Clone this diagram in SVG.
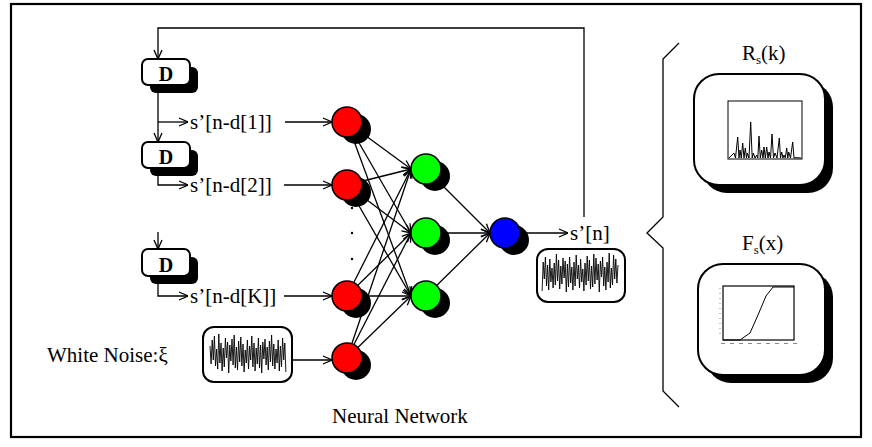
<svg xmlns="http://www.w3.org/2000/svg" xmlns:xlink="http://www.w3.org/1999/xlink" width="872" height="447" viewBox="0 0 872 447">
<style>
text{font-family:"Liberation Serif","Times New Roman",serif;fill:#000}
.lbl{font-size:21px}
.dl{font-size:20px;font-weight:bold}
.ln{fill:none;stroke:#000;stroke-width:1.3}
.arr{fill:none;stroke:#000;stroke-width:1.3;marker-end:url(#ah)}
.box{fill:#fff;stroke:#000;stroke-width:2}
.sh{fill:#000}
.cs{stroke:#000;stroke-width:1.5}
.wave{fill:none;stroke:#000;stroke-width:0.9}
</style>
<defs>
<marker id="ah" viewBox="0 0 10 10" refX="10" refY="5" markerWidth="10" markerHeight="10" markerUnits="userSpaceOnUse" orient="auto">
<path d="M1,1 L10,5 L1,9" fill="none" stroke="#000" stroke-width="1.3"/>
</marker>
<polyline id="noise" points="210,346 211.1,364 212.2,340 213.3,360 214.4,336 215.5,366 216.6,349 217.7,369 218.8,334 219.9,363 221,343 222.1,371 223.2,348 224.3,367 225.4,338 226.5,358 227.6,342 228.7,373 229.8,345 230.9,361 232,339 233.1,365 234.2,335 235.3,368 236.4,347 237.5,370 238.6,341 239.7,362 240.8,337 241.9,366 243,344 244.1,372 245.2,350 246.3,363 247.4,340 248.5,369 249.6,346 250.7,360 251.8,336 252.9,367 254,343 255.1,371 256.2,348 257.3,364 258.4,338 259.5,368 260.6,345 261.7,373 262.8,342 263.9,359 265,339 266.1,365 267.2,347 268.3,370 269.4,341 270.5,362 271.6,335 272.7,366 273.8,344 274.9,369 276,349 277.1,363 278.2,340 279.3,371 280.4,346 281.5,367 282.6,338 283.7,360 284.8,343 285.9,372" class="wave"/>
</defs>
<rect x="11" y="4" width="850" height="433" fill="#fff" stroke="#000" stroke-width="2.2"/>

<g id="connectors">
<polyline class="arr" points="584,217 584,28 158,28 158,59"/>
<line class="arr" x1="158" y1="85" x2="158" y2="142"/>
<polyline class="arr" points="158,122 188,122"/>
<polyline class="arr" points="158,168 158,185 188,185"/>
<line class="arr" x1="158" y1="232" x2="158" y2="249"/>
<polyline class="arr" points="158,277 158,296 188,296"/>
<line class="arr" x1="285" y1="122" x2="332" y2="122"/>
<line class="arr" x1="284" y1="185" x2="332" y2="185"/>
<line class="arr" x1="284" y1="296" x2="332" y2="296"/>
<line class="arr" x1="292" y1="360" x2="332" y2="360"/>
<line class="arr" x1="347" y1="122" x2="411" y2="169"/>
<line class="arr" x1="347" y1="122" x2="411" y2="233"/>
<line class="arr" x1="347" y1="122" x2="411" y2="296"/>
<line class="arr" x1="347" y1="185" x2="411" y2="169"/>
<line class="arr" x1="347" y1="185" x2="411" y2="233"/>
<line class="arr" x1="347" y1="185" x2="411" y2="296"/>
<line class="arr" x1="347" y1="296" x2="411" y2="169"/>
<line class="arr" x1="347" y1="296" x2="411" y2="233"/>
<line class="arr" x1="347" y1="296" x2="411" y2="296"/>
<line class="arr" x1="347" y1="358" x2="411" y2="169"/>
<line class="arr" x1="347" y1="358" x2="411" y2="233"/>
<line class="arr" x1="347" y1="358" x2="411" y2="296"/>
<line class="arr" x1="426" y1="169" x2="490" y2="233"/>
<line class="arr" x1="426" y1="233" x2="490" y2="233"/>
<line class="arr" x1="426" y1="296" x2="490" y2="233"/>
<line class="arr" x1="520" y1="233" x2="568" y2="233"/>
</g>

<g id="delay1"><rect class="sh" x="150" y="67" width="48" height="26" rx="6"/><rect class="box" x="142" y="59" width="48" height="26" rx="6"/><text class="dl" x="166" y="81" text-anchor="middle">D</text></g>
<g id="delay2"><rect class="sh" x="150" y="150" width="48" height="26" rx="6"/><rect class="box" x="142" y="142" width="48" height="26" rx="6"/><text class="dl" x="166" y="164" text-anchor="middle">D</text></g>
<g id="delay3"><rect class="sh" x="150" y="257" width="48" height="27" rx="6"/><rect class="box" x="142" y="249" width="48" height="27" rx="6"/><text class="dl" x="166" y="272" text-anchor="middle">D</text></g>

<g id="lbl1"><text class="lbl" x="190" y="129">s’[n-d[1]]</text></g>
<g id="lbl2"><text class="lbl" x="190" y="192">s’[n-d[2]]</text></g>
<g id="lblK"><text class="lbl" x="190" y="303">s’[n-d[K]]</text></g>

<g id="noise-in">
<text class="lbl" x="47" y="362">White Noise:ξ</text>
<rect class="box" x="203" y="327" width="89" height="55" rx="11"/>
<use xlink:href="#noise" href="#noise"/>
</g>

<g id="in1"><circle class="sh" cx="356" cy="129" r="15"/><circle class="cs" cx="347" cy="122" r="15" fill="#ff0000"/></g>
<g id="in2"><circle class="sh" cx="356" cy="192" r="15"/><circle class="cs" cx="347" cy="185" r="15" fill="#ff0000"/></g>
<g id="inK"><circle class="sh" cx="356" cy="303" r="15"/><circle class="cs" cx="347" cy="296" r="15" fill="#ff0000"/></g>
<g id="inN"><circle class="sh" cx="356" cy="365" r="15"/><circle class="cs" cx="347" cy="358" r="15" fill="#ff0000"/></g>
<g id="dots"><circle cx="352" cy="208" r="1.2"/><circle cx="352" cy="233" r="1.2"/><circle cx="352" cy="259" r="1.2"/></g>

<g id="h1"><circle class="sh" cx="435" cy="176" r="15"/><circle class="cs" cx="426" cy="169" r="15" fill="#00ff00"/></g>
<g id="h2"><circle class="sh" cx="435" cy="240" r="15"/><circle class="cs" cx="426" cy="233" r="15" fill="#00ff00"/></g>
<g id="h3"><circle class="sh" cx="435" cy="303" r="15"/><circle class="cs" cx="426" cy="296" r="15" fill="#00ff00"/></g>

<g id="out"><circle class="sh" cx="514" cy="240" r="15"/><circle class="cs" cx="505" cy="233" r="15" fill="#0000ff"/></g>

<g id="output">
<text class="lbl" x="570" y="240">s’[n]</text>
<rect class="box" x="537" y="249" width="88" height="53" rx="11"/>
<use xlink:href="#noise" href="#noise" transform="translate(828,-81) scale(-1,1)"/>
</g>

<g id="brace"><path class="ln" d="M679,43 L663,59 L663,217 L647,233 L663,248 L663,391 L679,407" stroke-width="1.5"/></g>

<g id="autocorr">
<text x="742" y="60" font-size="21">R<tspan font-size="13" dy="4">s</tspan><tspan dy="-4">(k)</tspan></text>
<rect class="sh" x="702" y="82" width="131" height="111" rx="25"/>
<rect class="box" x="694" y="74" width="131" height="111" rx="25"/>
<rect x="728" y="101" width="74" height="58" fill="#fff" stroke="#000" stroke-width="1"/>
<polyline fill="none" stroke="#000" stroke-width="1" points="729,158 734,153 735.5,158 737.7,137 739,158 740,150 741.3,158 742.7,143 744,158 745.3,148 746.5,158 747.3,153 749,158 750.7,122 752.2,158 753.3,153 755,158 756.7,155 757.8,158 759,136 760.3,158 761.7,150 763,158 764,147 765.3,158 766.7,147 768,158 769,152 770.5,158 772,134 773.5,158 775,153 777,158 779.3,138 780.5,158 781.7,152 783,158 784,155 785.3,158 786.7,148 787.8,158 788.7,152 790.5,158 792.7,142 794,158 795,157.7 801,158"/>
</g>

<g id="cdf">
<text x="742" y="250" font-size="21">F<tspan font-size="13" dy="4">s</tspan><tspan dy="-4">(x)</tspan></text>
<rect class="sh" x="706" y="272" width="127" height="111" rx="25"/>
<rect class="box" x="698" y="264" width="127" height="111" rx="25"/>
<rect x="723" y="286" width="71" height="54" fill="#fff" stroke="#000" stroke-width="1.2"/>
<polyline fill="none" stroke="#000" stroke-width="1" points="723,340 740,340 750,333 758,315 766,296 773,287 794,287"/>
<line x1="720" y1="288" x2="720" y2="338" stroke="#888" stroke-width="1" stroke-dasharray="1,4"/>
<line x1="721" y1="343.5" x2="797" y2="343.5" stroke="#888" stroke-width="1" stroke-dasharray="4,5"/>
</g>

<g id="caption"><text class="lbl" x="332" y="423">Neural Network</text></g>
</svg>
